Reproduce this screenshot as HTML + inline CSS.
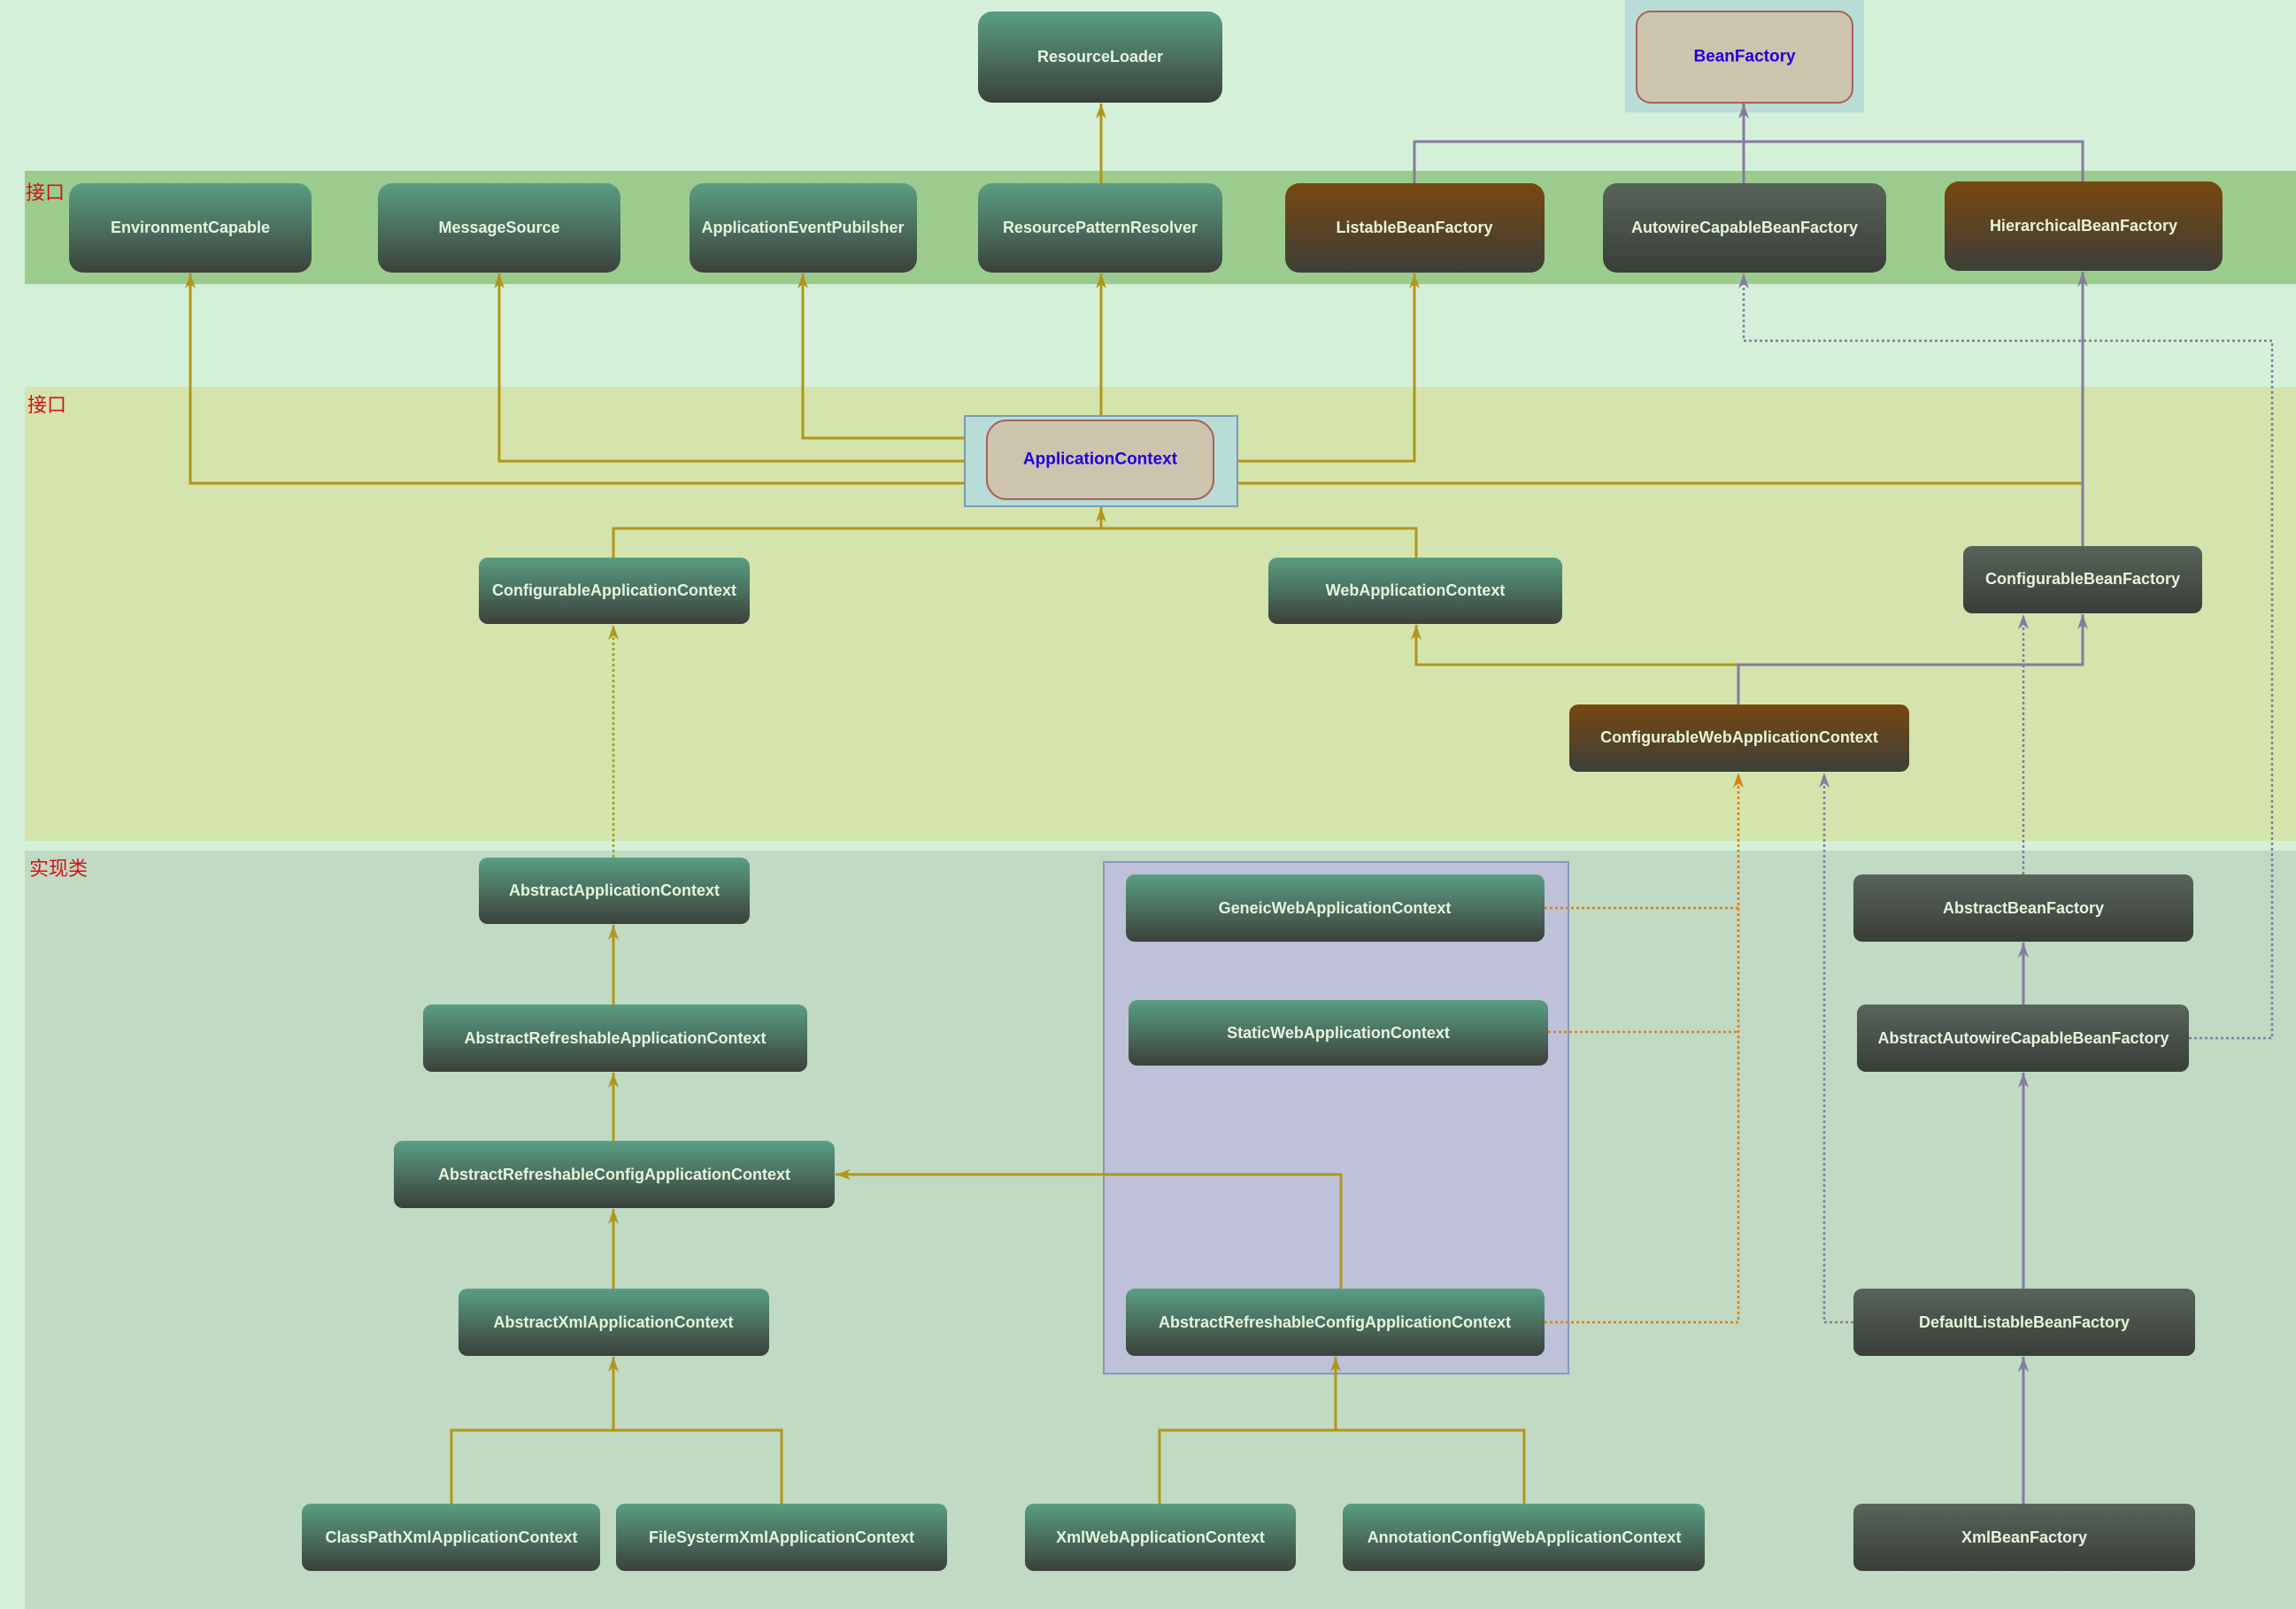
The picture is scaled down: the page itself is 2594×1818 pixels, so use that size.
<!DOCTYPE html>
<html><head><meta charset="utf-8"><style>
html,body{margin:0;padding:0;width:2594px;height:1818px;overflow:hidden;background:#d5f0d8;}
svg text{font-family:"Liberation Sans","Noto Sans CJK SC",sans-serif;}
.n{font-weight:bold;font-size:18px;fill:#e6f4dc;text-anchor:middle;dominant-baseline:central;}
.b{font-weight:bold;font-size:19px;fill:#2200dd;text-anchor:middle;dominant-baseline:central;}
.lab{font-size:22px;fill:#d4101a;}
</style></head><body>
<svg width="2594" height="1818" viewBox="0 0 2594 1818" xmlns="http://www.w3.org/2000/svg">
<defs>
<linearGradient id="teal" x1="0" y1="0" x2="0" y2="1"><stop offset="0" stop-color="#5a9e84"/><stop offset="1" stop-color="#3b413b"/></linearGradient>
<linearGradient id="brown" x1="0" y1="0" x2="0" y2="1"><stop offset="0" stop-color="#784810"/><stop offset="1" stop-color="#3c3f38"/></linearGradient>
<linearGradient id="grey" x1="0" y1="0" x2="0" y2="1"><stop offset="0" stop-color="#58645a"/><stop offset="1" stop-color="#393e38"/></linearGradient>
<marker id="ag" markerWidth="18" markerHeight="14" refX="17" refY="7" orient="auto" markerUnits="userSpaceOnUse" viewBox="0 0 18 14"><path d="M17 7 L0 1 L5 7 L0 13 Z" fill="#b0961a"/></marker>
<marker id="ap" markerWidth="18" markerHeight="14" refX="17" refY="7" orient="auto" markerUnits="userSpaceOnUse" viewBox="0 0 18 14"><path d="M17 7 L0 1 L5 7 L0 13 Z" fill="#857aa0"/></marker>
<marker id="ao" markerWidth="18" markerHeight="14" refX="17" refY="7" orient="auto" markerUnits="userSpaceOnUse" viewBox="0 0 18 14"><path d="M17 7 L0 1 L5 7 L0 13 Z" fill="#d8801a"/></marker>
</defs>

<rect x="28" y="193" width="2566" height="128" fill="#9bcc8e"/>
<rect x="28" y="437" width="2566" height="513" fill="#d4e4ac"/>
<rect x="28" y="961" width="2566" height="857" fill="#c0dac3"/>
<text class="lab" x="29" y="225">接口</text>
<text class="lab" x="31" y="465">接口</text>
<text class="lab" x="33" y="989">实现类</text>

<rect x="1836" y="0" width="270" height="127" fill="#b8dcd6"/>
<rect x="1090" y="470" width="308" height="102" fill="#b8dcd6" stroke="#7a9cb6" stroke-width="2"/>
<rect x="1247" y="974" width="525" height="578" fill="#bfc1d9" stroke="#8a96b8" stroke-width="2"/>

<g fill="none" stroke="#b0961a" stroke-width="3">
<path d="M1244 207 V117" marker-end="url(#ag)"/>
<path d="M1244 470 V309" marker-end="url(#ag)"/>
<path d="M1090 546 H215 V309" marker-end="url(#ag)"/>
<path d="M1090 521 H564 V309" marker-end="url(#ag)"/>
<path d="M1090 495 H907 V309" marker-end="url(#ag)"/>
<path d="M1398 521 H1598 V309" marker-end="url(#ag)"/>
<path d="M1398 546 H2353"/>
<path d="M693 630 V597 H1600 V630"/>
<path d="M1244 597 V573" marker-end="url(#ag)"/>
<path d="M1964 751 H1600 V706" marker-end="url(#ag)"/>
<path d="M693 1135 V1045" marker-end="url(#ag)"/>
<path d="M693 1289 V1212" marker-end="url(#ag)"/>
<path d="M693 1456 V1366" marker-end="url(#ag)"/>
<path d="M510 1699 V1616 H883 V1699"/>
<path d="M693 1616 V1533" marker-end="url(#ag)"/>
<path d="M1310 1699 V1616 H1722 V1699"/>
<path d="M1509 1616 V1533" marker-end="url(#ag)"/>
<path d="M1515 1456 V1327 H944" marker-end="url(#ag)"/>
<path d="M693 969 V706" stroke-dasharray="3 3" stroke-width="2.5" marker-end="url(#ag)"/>
</g>

<g fill="none" stroke="#857aa0" stroke-width="3">
<path d="M1598 207 V160 H2353 V205"/>
<path d="M1970 207 V117" marker-end="url(#ap)"/>
<path d="M2353 617 V307" marker-end="url(#ap)"/>
<path d="M1964 796 V751 H2353 V694" marker-end="url(#ap)"/>
<path d="M2286 1135 V1065" marker-end="url(#ap)"/>
<path d="M2286 1456 V1212" marker-end="url(#ap)"/>
<path d="M2286 1699 V1533" marker-end="url(#ap)"/>
<g stroke-dasharray="3 3" stroke-width="2.5">
<path d="M2473 1173 H2567 V385 H1970 V309" marker-end="url(#ap)"/>
<path d="M2286 988 V694" marker-end="url(#ap)"/>
<path d="M2094 1494 H2061 V873" marker-end="url(#ap)"/>
</g>
</g>

<g fill="none" stroke="#d8801a" stroke-width="2.5" stroke-dasharray="3 3">
<path d="M1745 1026 H1964"/>
<path d="M1749 1166 H1964"/>
<path d="M1745 1494 H1964 V873" marker-end="url(#ao)"/>
</g>

<g>
<rect x="1105" y="13" width="276" height="103" rx="16" fill="url(#teal)"/><text class="n" x="1243" y="64">ResourceLoader</text>
<rect x="1849" y="13" width="244" height="103" rx="16" fill="#cdc4ad" stroke="#a86058" stroke-width="2"/><text class="b" x="1971" y="64">BeanFactory</text>

<rect x="78" y="207" width="274" height="101" rx="16" fill="url(#teal)"/><text class="n" x="215" y="257">EnvironmentCapable</text>
<rect x="427" y="207" width="274" height="101" rx="16" fill="url(#teal)"/><text class="n" x="564" y="257">MessageSource</text>
<rect x="779" y="207" width="257" height="101" rx="16" fill="url(#teal)"/><text class="n" x="907" y="257">ApplicationEventPubilsher</text>
<rect x="1105" y="207" width="276" height="101" rx="16" fill="url(#teal)"/><text class="n" x="1243" y="257">ResourcePatternResolver</text>
<rect x="1452" y="207" width="293" height="101" rx="16" fill="url(#brown)"/><text class="n" x="1598" y="257">ListableBeanFactory</text>
<rect x="1811" y="207" width="320" height="101" rx="16" fill="url(#grey)"/><text class="n" x="1971" y="257">AutowireCapableBeanFactory</text>
<rect x="2197" y="205" width="314" height="101" rx="16" fill="url(#brown)"/><text class="n" x="2354" y="255">HierarchicalBeanFactory</text>

<rect x="1115" y="475" width="256" height="89" rx="22" fill="#cdc4ad" stroke="#a86058" stroke-width="2"/><text class="b" x="1243" y="519">ApplicationContext</text>

<rect x="541" y="630" width="306" height="75" rx="10" fill="url(#teal)"/><text class="n" x="694" y="667">ConfigurableApplicationContext</text>
<rect x="1433" y="630" width="332" height="75" rx="10" fill="url(#teal)"/><text class="n" x="1599" y="667">WebApplicationContext</text>
<rect x="2218" y="617" width="270" height="76" rx="10" fill="url(#grey)"/><text class="n" x="2353" y="654">ConfigurableBeanFactory</text>
<rect x="1773" y="796" width="384" height="76" rx="10" fill="url(#brown)"/><text class="n" x="1965" y="833">ConfigurableWebApplicationContext</text>

<rect x="541" y="969" width="306" height="75" rx="10" fill="url(#teal)"/><text class="n" x="694" y="1006">AbstractApplicationContext</text>
<rect x="478" y="1135" width="434" height="76" rx="10" fill="url(#teal)"/><text class="n" x="695" y="1173">AbstractRefreshableApplicationContext</text>
<rect x="445" y="1289" width="498" height="76" rx="10" fill="url(#teal)"/><text class="n" x="694" y="1327">AbstractRefreshableConfigApplicationContext</text>
<rect x="518" y="1456" width="351" height="76" rx="10" fill="url(#teal)"/><text class="n" x="693" y="1494">AbstractXmlApplicationContext</text>

<rect x="1272" y="988" width="473" height="76" rx="10" fill="url(#teal)"/><text class="n" x="1508" y="1026">GeneicWebApplicationContext</text>
<rect x="1275" y="1130" width="474" height="74" rx="10" fill="url(#teal)"/><text class="n" x="1512" y="1167">StaticWebApplicationContext</text>
<rect x="1272" y="1456" width="473" height="76" rx="10" fill="url(#teal)"/><text class="n" x="1508" y="1494">AbstractRefreshableConfigApplicationContext</text>

<rect x="2094" y="988" width="384" height="76" rx="10" fill="url(#grey)"/><text class="n" x="2286" y="1026">AbstractBeanFactory</text>
<rect x="2098" y="1135" width="375" height="76" rx="10" fill="url(#grey)"/><text class="n" x="2286" y="1173">AbstractAutowireCapableBeanFactory</text>
<rect x="2094" y="1456" width="386" height="76" rx="10" fill="url(#grey)"/><text class="n" x="2287" y="1494">DefaultListableBeanFactory</text>

<rect x="341" y="1699" width="337" height="76" rx="10" fill="url(#teal)"/><text class="n" x="510" y="1737">ClassPathXmlApplicationContext</text>
<rect x="696" y="1699" width="374" height="76" rx="10" fill="url(#teal)"/><text class="n" x="883" y="1737">FileSystermXmlApplicationContext</text>
<rect x="1158" y="1699" width="306" height="76" rx="10" fill="url(#teal)"/><text class="n" x="1311" y="1737">XmlWebApplicationContext</text>
<rect x="1517" y="1699" width="409" height="76" rx="10" fill="url(#teal)"/><text class="n" x="1722" y="1737">AnnotationConfigWebApplicationContext</text>
<rect x="2094" y="1699" width="386" height="76" rx="10" fill="url(#grey)"/><text class="n" x="2287" y="1737">XmlBeanFactory</text>
</g>
</svg>
</body></html>
